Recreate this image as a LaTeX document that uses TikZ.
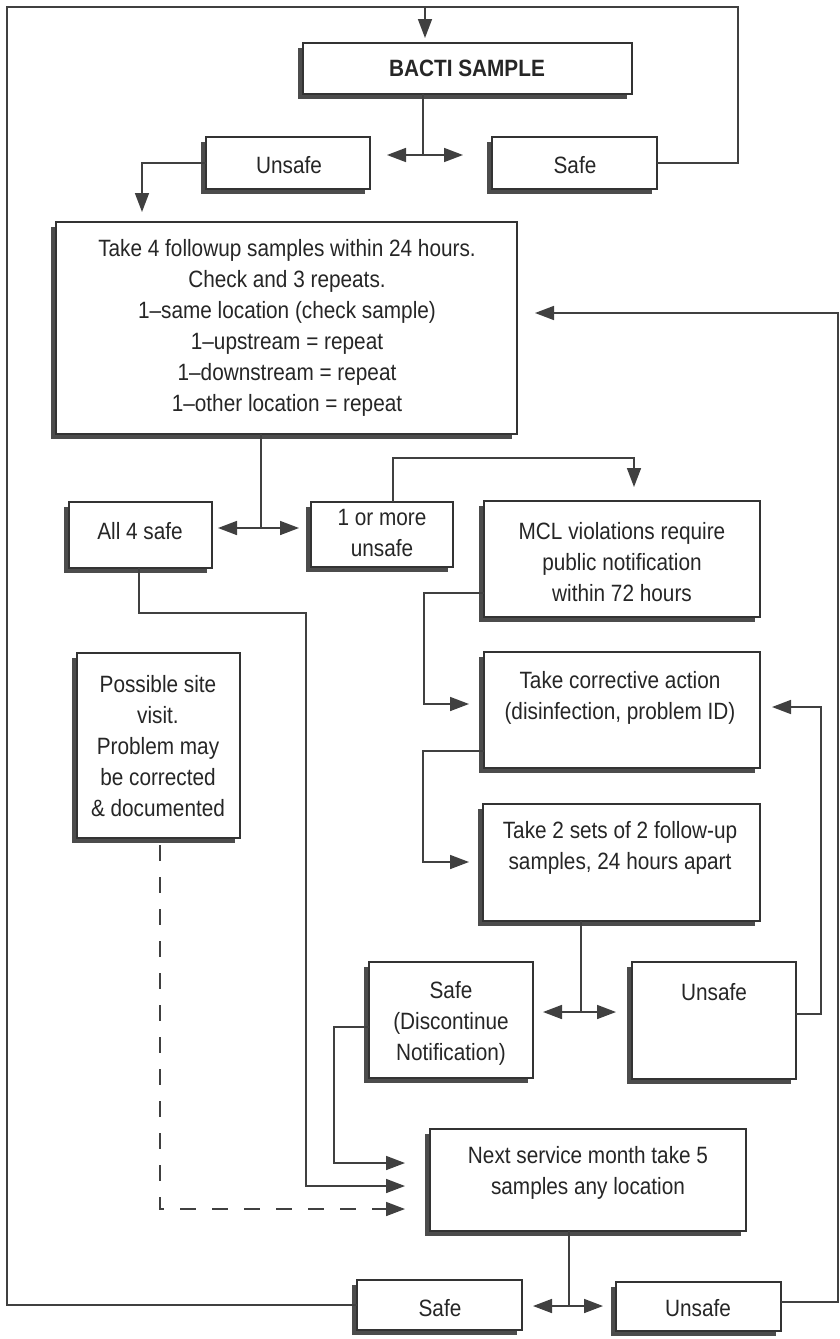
\documentclass[tikz,border=0pt]{standalone}
\usepackage{fontspec}
\setmainfont{Liberation Sans}[FakeStretch=0.88]
\usetikzlibrary{arrows.meta,shadows}
\tikzset{
 ln/.style={draw=black!75, line width=0.8pt},
 arr/.style={ln, -{Triangle[length=9.5pt,width=7pt]}},
 darr/.style={ln, {Triangle[length=9.5pt,width=7pt]}-{Triangle[length=9.5pt,width=7pt]}},
 dsh/.style={dash pattern=on 8pt off 8pt},
 bx/.style={draw=black!80, line width=0.6pt, fill=white, inner sep=0pt, outer sep=0pt,
   drop shadow={shadow xshift=-2.5pt, shadow yshift=-2.5pt, fill=black!70, opacity=1}},
 txt/.style={align=center, text=black!85, font=\fontsize{11.8}{15.5}\selectfont, inner sep=0pt},
}
\newcommand\mkbox[5]{\node[bx, minimum width={(#4-#2)*0.5pt}, minimum height={(#5-#3)*0.5pt}] (#1) at ({(#2+#4)/2},{(#3+#5)/2}) {};}
\begin{document}
\begin{tikzpicture}[x=0.5pt,y=-0.5pt]
\useasboundingbox (0,0) rectangle (840,1339);
\fill[white] (0,0) rectangle (840,1339);

% boxes
\mkbox{bacti}{303}{43}{632}{94}
\mkbox{unsafeA}{206}{137}{370}{189}
\mkbox{safeA}{492}{137}{657}{189}
\mkbox{take4}{56}{222}{517}{434}
\mkbox{all4}{69}{502}{212}{568}
\mkbox{more}{311}{502}{453}{567}
\mkbox{mcl}{484}{501}{760}{617}
\mkbox{possible}{77}{653}{240}{838}
\mkbox{corr}{484}{652}{760}{768}
\mkbox{take2}{483}{804}{760}{921}
\mkbox{safeB}{369}{962}{533}{1078}
\mkbox{unsafeB}{632}{962}{796}{1079}
\mkbox{next}{430}{1129}{746}{1231}
\mkbox{safeC}{357}{1280}{522}{1330}
\mkbox{unsafeC}{616}{1282}{781}{1331}

% texts
\node[txt] (t-bacti) at (467,68) {\textbf{BACTI SAMPLE}};
\node[txt] (t-unsafeA) at (289,165) {Unsafe};
\node[txt] (t-safeA) at (575,165) {Safe};
\node[txt] (t-take4) at (287,328) {Take 4 followup samples within 24 hours.\\Check and 3 repeats.\\1--same location (check sample)\\1--upstream = repeat\\1--downstream = repeat\\1--other location = repeat};
\node[txt] (t-all4) at (140,531) {All 4 safe};
\node[txt] (t-more) at (382,533) {1 or more\\unsafe};
\node[txt] (t-mcl) at (622,562) {MCL violations require\\public notification\\within 72 hours};
\node[txt] (t-possible) at (158,746) {Possible site\\visit.\\Problem may\\be corrected\\\& documented};
\node[txt] (t-corr) at (620,698) {Take corrective action\\(disinfection, problem ID)};
\node[txt] (t-take2) at (620,848) {Take 2 sets of 2 follow-up\\samples, 24 hours apart};
\node[txt] (t-safeB) at (451,1023) {Safe\\(Discontinue\\Notification)};
\node[txt] (t-unsafeB) at (714,992) {Unsafe};
\node[txt] (t-next) at (588,1173) {Next service month take 5\\samples any location};
\node[txt] (t-safeC) at (440,1308) {Safe};
\node[txt] (t-unsafeC) at (698,1308) {Unsafe};

% coordinates
\coordinate (ctl) at (7,7);
\coordinate (ctr) at (738,7);
\coordinate (tin) at (425,7);
\coordinate (sp1) at (423,155);
\coordinate (sp1L) at (387,155);
\coordinate (sp1R) at (463,155);
\coordinate (u1) at (142,212);
\coordinate (sp2) at (261,528);
\coordinate (sp2L) at (218,528);
\coordinate (sp2R) at (299,528);
\coordinate (m1) at (393,458);
\coordinate (m2) at (634,487);
\coordinate (a1) at (139,613);
\coordinate (a2) at (306,1186);
\coordinate (a3) at (405,1186);
\coordinate (b1) at (424,593);
\coordinate (b2) at (469,704);
\coordinate (c1) at (423,751);
\coordinate (c2) at (469,862);
\coordinate (sp3) at (581,1012);
\coordinate (sp3L) at (543,1012);
\coordinate (sp3R) at (616,1012);
\coordinate (d1) at (821,1014);
\coordinate (d2) at (772,707);
\coordinate (e1) at (334,1027);
\coordinate (e2) at (405,1163);
\coordinate (f0) at (160,845);
\coordinate (f1) at (160,1209);
\coordinate (f2) at (405,1209);
\coordinate (sp4) at (569,1306);
\coordinate (sp4L) at (533,1306);
\coordinate (sp4R) at (603,1306);
\coordinate (g1) at (838,1302);
\coordinate (g2) at (535,313);

% connectors
\draw[ln] (safeA.east) -| (ctr) -- (ctl) |- (safeC.west);
\draw[arr] (tin) -- ([yshift=2.5pt]tin |- bacti.north);
\draw[ln] (sp1 |- bacti.south) -- (sp1);
\draw[darr] (sp1L) -- (sp1R);
\draw[arr] (unsafeA.west) -| (u1);
\draw[ln] (sp2 |- take4.south) -- (sp2);
\draw[darr] (sp2L) -- (sp2R);
\draw[arr] (m1 |- more.north) -- (m1) -| (m2);
\draw[arr] (a1 |- all4.south) -- (a1) -| (a2) -- (a3);
\draw[arr] (mcl.west |- b1) -- (b1) |- (b2);
\draw[arr] (corr.west |- c1) -- (c1) |- (c2);
\draw[ln] (sp3 |- take2.south) -- (sp3);
\draw[darr] (sp3L) -- (sp3R);
\draw[arr] (unsafeB.east |- d1) -- (d1) |- (d2);
\draw[arr] (safeB.west |- e1) -- (e1) |- (e2);
\draw[arr, dsh] (f0) -- (f1) -- (f2);
\draw[ln] (sp4 |- next.south) -- (sp4);
\draw[darr] (sp4L) -- (sp4R);
\draw[arr] (unsafeC.east |- g1) -- (g1) |- (g2);
\end{tikzpicture}
\end{document}
